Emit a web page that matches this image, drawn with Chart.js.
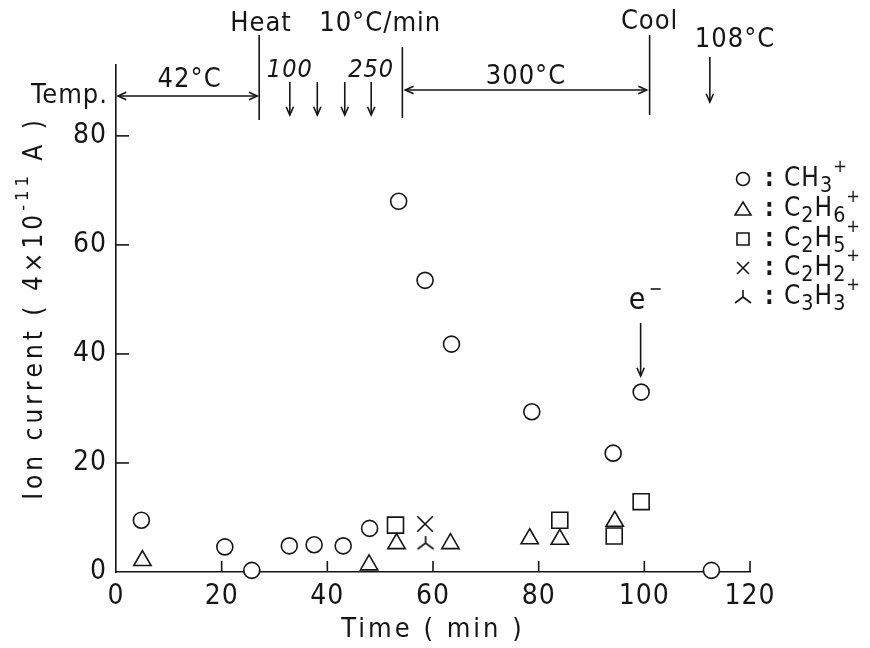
<!DOCTYPE html>
<html>
<head>
<meta charset="utf-8">
<script src="https://cdn.jsdelivr.net/npm/chart.js@4.4.1/dist/chart.umd.min.js"></script>
<style>
  html, body { margin: 0; padding: 0; background: #fff; }
  #chart { display: block; }
</style>
</head>
<body>
<canvas id="chart" width="870" height="648"></canvas>
<script>
// axis ticks
const timeTicks = [0, 20, 40, 60, 80, 100, 120];
const currentTicks = [0, 20, 40, 60, 80];

// ion current (units of 4x10^-11 A)
const ch3Time = [4.8, 20.6, 25.7, 32.8, 37.5, 43.0, 48.0, 53.5, 58.5, 63.5, 78.7, 94.1, 99.4, 112.7];
const ch3Current = [9.5, 4.6, 0.3, 4.8, 5.0, 4.8, 8.0, 68.0, 53.5, 41.8, 29.4, 21.8, 33.0, 0.3];
const c2h6Time = [5.0, 47.9, 53.1, 63.3, 78.3, 84.0, 94.4];
const c2h6Current = [2.1, 1.3, 5.2, 5.2, 6.1, 6.0, 9.3];
const c2h5Time = [52.9, 84.0, 94.3, 99.4];
const c2h5Current = [8.6, 9.5, 6.6, 12.9];
const c2h2Time = [58.5];
const c2h2Current = [8.8];
const c3h3Time = [58.6];
const c3h3Current = [5.3];

// temperature programme (min)
const phaseTimes = [0, 27.1, 54.2, 101.0];
const rampArrowTimes = [32.9, 38.1, 43.3, 48.3];
const rampLabels = ['100', '', '', '250'];
const coolArrowTime = 112.4;
const electronTime = 99.3;

const speciesLabels = ['CH_3^+', 'C_2H_6^+', 'C_2H_5^+', 'C_2H_2^+', 'C_3H_3^+'];
const yTitle = 'Ion current ( 4×10^-^1^1 A )';
const xTitle = 'Time ( min )';

const INK = '#151515';
const FONT = '"Liberation Sans Narrow", "DejaVu Sans Condensed", "Liberation Sans", sans-serif';

function toPoints(xs, ys) {
  return xs.map((t, i) => ({ x: t, y: ys[i] }));
}

function makeTripod(size) {
  const c = document.createElement('canvas');
  c.width = c.height = size;
  const g = c.getContext('2d');
  const m = size / 2;
  g.strokeStyle = INK;
  g.lineWidth = 1.7;
  g.beginPath();
  g.moveTo(m, m - 7);
  g.lineTo(m, m);
  g.lineTo(m - 8, m + 6);
  g.moveTo(m, m);
  g.lineTo(m + 8, m + 6);
  g.stroke();
  return c;
}
const tripod = makeTripod(24);

function arrowHead(ctx, x, y, dir) {
  const L = 9, a = 0.42;
  ctx.beginPath();
  ctx.moveTo(x - L * Math.cos(dir - a), y - L * Math.sin(dir - a));
  ctx.lineTo(x, y);
  ctx.lineTo(x - L * Math.cos(dir + a), y - L * Math.sin(dir + a));
  ctx.stroke();
}

function line(ctx, x1, y1, x2, y2) {
  ctx.beginPath();
  ctx.moveTo(x1, y1);
  ctx.lineTo(x2, y2);
  ctx.stroke();
}

// 'C_2H_6^+' -> pieces with sub/superscripts; returns width
function richText(ctx, x, y, str, size, draw = true) {
  let cx = x;
  for (let i = 0; i < str.length; i++) {
    let ch = str[i], dy = 0, s = size;
    if (ch === '_') { ch = str[++i]; dy = size * 0.28; s = size * 0.82; }
    else if (ch === '^') { ch = str[++i]; dy = -size * 0.45; s = size * 0.7; }
    ctx.font = s + 'px ' + FONT;
    if (draw) ctx.fillText(ch, cx, y + dy);
    cx += ctx.measureText(ch).width;
  }
  return cx - x;
}

function legendSymbol(ctx, kind, x, y) {
  ctx.beginPath();
  if (kind === 0) {
    ctx.arc(x, y, 6.5, 0, Math.PI * 2);
  } else if (kind === 1) {
    ctx.moveTo(x, y - 7); ctx.lineTo(x + 8, y + 6); ctx.lineTo(x - 8, y + 6); ctx.closePath();
  } else if (kind === 2) {
    ctx.rect(x - 6, y - 6, 12, 12);
  } else if (kind === 3) {
    ctx.moveTo(x - 6, y - 6); ctx.lineTo(x + 6, y + 6);
    ctx.moveTo(x + 6, y - 6); ctx.lineTo(x - 6, y + 6);
  } else {
    ctx.moveTo(x, y - 7); ctx.lineTo(x, y); ctx.lineTo(x - 8, y + 6);
    ctx.moveTo(x, y); ctx.lineTo(x + 8, y + 6);
  }
  ctx.stroke();
}

const annotations = {
  id: 'annotations',
  beforeDraw(chart) {
    chart.ctx.letterSpacing = '1px';
  },
  beforeDatasetsDraw(chart) {
    const { ctx, scales: { x, y } } = chart;
    ctx.save();
    ctx.strokeStyle = INK;
    ctx.lineWidth = 1.6;
    const y0 = y.getPixelForValue(0), x0 = x.getPixelForValue(0);
    timeTicks.slice(1).forEach(t => line(ctx, x.getPixelForValue(t), y0, x.getPixelForValue(t), y0 - 11));
    currentTicks.slice(1).forEach(v => line(ctx, x0, y.getPixelForValue(v), x0 + 13, y.getPixelForValue(v)));
    ctx.restore();
  },
  afterDraw(chart) {
    const { ctx, scales: { x }, chartArea } = chart;
    const px = v => x.getPixelForValue(v);
    ctx.save();
    ctx.strokeStyle = INK;
    ctx.fillStyle = INK;
    ctx.lineWidth = 1.6;
    ctx.textBaseline = 'middle';

    // axis titles
    ctx.letterSpacing = '3px';
    ctx.font = '27px ' + FONT;
    ctx.textAlign = 'center';
    ctx.fillText(xTitle, (chartArea.left + chartArea.right) / 2, 630);
    ctx.save();
    ctx.translate(35, 308);
    ctx.rotate(-Math.PI / 2);
    ctx.textAlign = 'left';
    ctx.letterSpacing = '4px';
    const w = richText(ctx, 0, 0, yTitle, 26, false);
    richText(ctx, -w / 2, 0, yTitle, 26);
    ctx.restore();
    ctx.letterSpacing = '1px';

    const [pStart, pHeat, pHold, pCool] = phaseTimes.map(px);
    // phase bars
    line(ctx, pHeat, 35, pHeat, 120);
    line(ctx, pHold, 47, pHold, 118);
    line(ctx, pCool, 35, pCool, 115);

    // 42 C span
    line(ctx, pStart + 2, 96, pHeat - 2, 96);
    arrowHead(ctx, pStart + 2, 96, Math.PI);
    arrowHead(ctx, pHeat - 2, 96, 0);
    // 300 C span
    line(ctx, pHold + 3, 90, pCool - 3, 90);
    arrowHead(ctx, pHold + 3, 90, Math.PI);
    arrowHead(ctx, pCool - 3, 90, 0);

    ctx.font = '27px ' + FONT;
    ctx.textAlign = 'center';
    ctx.fillText('42°C', (pStart + pHeat) / 2 + 2, 80);
    ctx.fillText('300°C', (pHold + pCool) / 2, 77);
    ctx.fillText('Cool', pCool, 22);
    ctx.textAlign = 'left';
    ctx.fillText('Heat', pHeat - 29, 24);
    ctx.fillText('10°C/min', pHeat + 60, 24);
    ctx.fillText('108°C', px(coolArrowTime) - 15, 40);
    ctx.textAlign = 'right';
    ctx.fillText('Temp.', pStart - 8, 96);

    // ramp arrows
    ctx.textAlign = 'center';
    ctx.font = 'italic 25px ' + FONT;
    rampArrowTimes.forEach((t, i) => {
      const ax = px(t);
      line(ctx, ax, 82, ax, 115);
      arrowHead(ctx, ax, 115, Math.PI / 2);
      if (rampLabels[i]) ctx.fillText(rampLabels[i], ax, 70);
    });
    const cx = px(coolArrowTime);
    line(ctx, cx, 57, cx, 102);
    arrowHead(ctx, cx, 102, Math.PI / 2);

    // electron beam marker
    const ex = px(electronTime);
    ctx.font = '30px ' + FONT;
    ctx.fillText('e', ex - 3, 301);
    line(ctx, ex + 10, 289, ex + 20, 289);
    line(ctx, ex, 323, ex, 376);
    arrowHead(ctx, ex, 376, Math.PI / 2);

    // legend
    const rows = [179, 209, 239, 268, 297];
    ctx.textAlign = 'left';
    speciesLabels.forEach((lab, i) => {
      legendSymbol(ctx, i, 743, rows[i]);
      ctx.font = 'bold 24px ' + FONT;
      ctx.fillText(':', 765, rows[i] + 1);
      richText(ctx, 784, rows[i], lab, 26);
    });
    ctx.restore();
  }
};

const marker = { borderColor: INK, backgroundColor: '#fff', borderWidth: 1.6, showLine: false, clip: false };

new Chart(document.getElementById('chart'), {
  type: 'scatter',
  data: {
    datasets: [
      { ...marker, label: 'CH3+', data: toPoints(ch3Time, ch3Current), pointStyle: 'circle', pointRadius: 8 },
      { ...marker, label: 'C2H6+', data: toPoints(c2h6Time, c2h6Current), pointStyle: 'triangle', pointRadius: 10 },
      { ...marker, label: 'C2H5+', data: toPoints(c2h5Time, c2h5Current), pointStyle: 'rect', pointRadius: 11.3 },
      { ...marker, label: 'C2H2+', data: toPoints(c2h2Time, c2h2Current), pointStyle: 'crossRot', pointRadius: 11 },
      { ...marker, label: 'C3H3+', data: toPoints(c3h3Time, c3h3Current), pointStyle: tripod, pointRadius: 10 }
    ]
  },
  options: {
    responsive: false,
    animation: false,
    devicePixelRatio: 1,
    layout: { padding: { top: 65, right: 120, left: 0, bottom: 0 } },
    plugins: { legend: { display: false }, tooltip: { enabled: false } },
    scales: {
      x: {
        type: 'linear', min: 0, max: 120,
        afterBuildTicks: s => { s.ticks = timeTicks.map(v => ({ value: v })); },
        afterFit: s => { s.height = 76; },
        grid: { display: false, drawTicks: false },
        border: { display: true, color: INK, width: 1.6 },
        ticks: { color: INK, padding: 8, font: { family: FONT, size: 28 } }
      },
      y: {
        type: 'linear', min: 0, max: 93,
        afterBuildTicks: s => { s.ticks = currentTicks.map(v => ({ value: v })); },
        afterFit: s => { s.width = 116; },
        grid: { display: false, drawTicks: false },
        border: { display: true, color: INK, width: 1.6 },
        ticks: { color: INK, padding: 9, font: { family: FONT, size: 28 } }
      }
    }
  },
  plugins: [annotations]
});
</script>
</body>
</html>
